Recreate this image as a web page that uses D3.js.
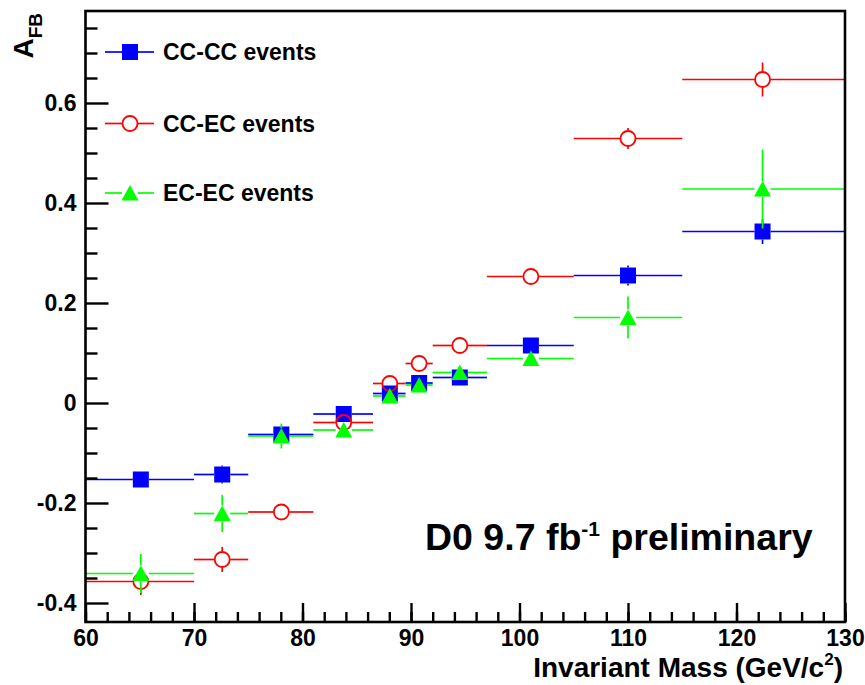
<!DOCTYPE html>
<html>
<head>
<meta charset="utf-8">
<script src="https://cdn.jsdelivr.net/npm/d3@7"></script>
<style>
  html, body { margin: 0; padding: 0; background: #fff; }
  svg { display: block; }
  text { font-family: "Liberation Sans", Arial, Helvetica, sans-serif; font-weight: bold; fill: #000; }
</style>
</head>
<body>
<svg id="chart" width="865" height="685"></svg>
<script>
// ---------------- data ----------------
const binLo  = [60, 70, 75, 81, 86.5, 89.5, 92, 97, 105, 115];
const binHi  = [70, 75, 81, 86.5, 89.5, 92, 97, 105, 115, 130];
const binX   = [65.1, 72.6, 78.05, 83.8, 88.05, 90.75, 94.5, 101.05, 110, 122.4];

const ccccVals = [-0.153, -0.143, -0.063, -0.022, 0.019, 0.040, 0.051, 0.115, 0.255, 0.343];
const ccccErr  = [0.012, 0.018, 0.012, 0.010, 0.008, 0.008, 0.008, 0.012, 0.020, 0.025];

const ccecVals = [-0.357, -0.313, -0.218, -0.039, 0.039, 0.079, 0.115, 0.253, 0.529, 0.647];
const ccecErr  = [0.027, 0.025, 0.012, 0.012, 0.010, 0.010, 0.010, 0.014, 0.021, 0.034];

const ececVals = [-0.341, -0.221, -0.066, -0.054, 0.014, 0.036, 0.061, 0.089, 0.171, 0.428];
const ececErr  = [0.039, 0.037, 0.025, 0.015, 0.010, 0.010, 0.012, 0.015, 0.042, 0.079];

const seriesNames = ["CC-CC events", "CC-EC events", "EC-EC events"];

const xMajorTicks = [60, 70, 80, 90, 100, 110, 120, 130];
const xTickLabels = ["60", "70", "80", "90", "100", "110", "120", "130"];
const xMinorTicks = d3.range(60, 131, 2);

const yMajorTicks = [-0.4, -0.2, 0, 0.2, 0.4, 0.6];
const yTickLabels = ["-0.4", "-0.2", "0", "0.2", "0.4", "0.6"];
const yMinorTicks = [-0.35, -0.3, -0.25, -0.15, -0.1, -0.05, 0.05, 0.1, 0.15, 0.25, 0.3, 0.35, 0.45, 0.5, 0.55, 0.65, 0.7, 0.75];

// ---------------- layout ----------------
const svg = d3.select("#chart");
const x = d3.scaleLinear().domain([60, 130]).range([85.5, 845]);
const y = d3.scaleLinear().domain([-0.438, 0.784]).range([622, 11]);
const x0 = x.range()[0], x1 = x.range()[1];
const yB = y.range()[0], yT = y.range()[1];

const colors = ["#0000ff", "#ff0000", "#00ff00"];
const shapes = ["square", "circle", "triangle"];
const MS = 8;  // marker half size

// ---------------- markers ----------------
function drawMarker(g, shape, color, cx, cy) {
  if (shape === "square") {
    g.append("rect").attr("x", cx - MS).attr("y", cy - MS).attr("width", 2 * MS).attr("height", 2 * MS)
      .attr("fill", color);
  } else if (shape === "circle") {
    g.append("circle").attr("cx", cx).attr("cy", cy).attr("r", MS - 0.5)
      .attr("fill", "none").attr("stroke", color).attr("stroke-width", 1.8);
  } else {
    g.append("path").attr("d", `M${cx},${cy - MS}L${cx + MS + 0.5},${cy + MS - 0.5}L${cx - MS - 0.5},${cy + MS - 0.5}Z`)
      .attr("fill", color);
  }
}

function seg(g, color, xa, ya, xb, yb) {
  g.append("line").attr("x1", xa).attr("y1", ya).attr("x2", xb).attr("y2", yb)
    .attr("stroke", color).attr("stroke-width", 1.7);
}

function drawSeries(vals, errs, si) {
  const g = svg.append("g");
  const color = colors[si];
  vals.forEach((v, i) => {
    const cx = x(binX[i]), cy = y(v);
    const xl = x(binLo[i]), xr = x(binHi[i]);
    const eu = y(v + errs[i]), ed = y(v - errs[i]);
    if (cx - MS > xl) seg(g, color, xl, cy, cx - MS, cy);
    if (xr > cx + MS) seg(g, color, cx + MS, cy, xr, cy);
    if (cy - eu > MS) seg(g, color, cx, eu, cx, cy - MS);
    if (ed - cy > MS) seg(g, color, cx, cy + MS, cx, ed);
    drawMarker(g, shapes[si], color, cx, cy);
  });
}

drawSeries(ccccVals, ccccErr, 0);
drawSeries(ccecVals, ccecErr, 1);
drawSeries(ececVals, ececErr, 2);

// ---------------- axes (drawn over the data like ROOT) ----------------
const gx = svg.append("g").attr("transform", `translate(0,${yB})`);
gx.call(d3.axisBottom(x).tickValues(xMinorTicks).tickSizeInner(-10).tickSizeOuter(0).tickFormat(""));
gx.append("g").call(d3.axisBottom(x).tickValues(xMajorTicks).tickSizeInner(-19).tickSizeOuter(0)
  .tickPadding(8).tickFormat((d, i) => xTickLabels[i]));
gx.selectAll("path.domain").remove();
gx.selectAll("line").attr("stroke", "#000").attr("stroke-width", 2.4);
gx.selectAll("text").attr("font-size", 23).attr("fill", "#000")
  .attr("font-family", "'Liberation Sans', Arial, sans-serif").attr("font-weight", "bold");

const gy = svg.append("g").attr("transform", `translate(${x0},0)`);
gy.call(d3.axisLeft(y).tickValues(yMinorTicks).tickSizeInner(-12).tickSizeOuter(0).tickFormat(""));
gy.append("g").call(d3.axisLeft(y).tickValues(yMajorTicks).tickSizeInner(-23).tickSizeOuter(0)
  .tickPadding(9).tickFormat((d, i) => yTickLabels[i]));
gy.selectAll("path.domain").remove();
gy.selectAll("line").attr("stroke", "#000").attr("stroke-width", 2.4);
gy.selectAll("text").attr("font-size", 23).attr("fill", "#000")
  .attr("font-family", "'Liberation Sans', Arial, sans-serif").attr("font-weight", "bold");

// ---------------- frame ----------------
svg.append("rect").attr("x", x0).attr("y", yT).attr("width", x1 - x0).attr("height", yB - yT)
  .attr("fill", "none").attr("stroke", "#000").attr("stroke-width", 2.6);

// ---------------- legend ----------------
const legY = [52, 123.5, 193];
const leg = svg.append("g");
seriesNames.forEach((name, i) => {
  const c = colors[i];
  seg(leg, c, 105, legY[i], 130 - MS, legY[i]);
  seg(leg, c, 130 + MS, legY[i], 154, legY[i]);
  drawMarker(leg, shapes[i], c, 130, legY[i]);
  leg.append("text").attr("x", 163).attr("y", legY[i] + 8).attr("font-size", 23).text(name);
});

// ---------------- titles ----------------
const xt = svg.append("text").attr("x", 843).attr("y", 677).attr("text-anchor", "end").attr("font-size", 28);
xt.append("tspan").text("Invariant Mass (GeV/c");
xt.append("tspan").attr("font-size", 17).attr("dy", -12).text("2");
xt.append("tspan").attr("dy", 12).text(")");

const yt = svg.append("text").attr("transform", "translate(33,13) rotate(-90)").attr("text-anchor", "end").attr("font-size", 28);
yt.append("tspan").text("A");
yt.append("tspan").attr("font-size", 19).attr("dy", 9).text("FB");

const d0 = svg.append("text").attr("x", 425).attr("y", 550).attr("font-size", 37.5);
d0.append("tspan").text("D0 9.7 fb");
d0.append("tspan").attr("font-size", 21).attr("dy", -14).text("-1");
d0.append("tspan").attr("dy", 14).text(" preliminary");
</script>
</body>
</html>
